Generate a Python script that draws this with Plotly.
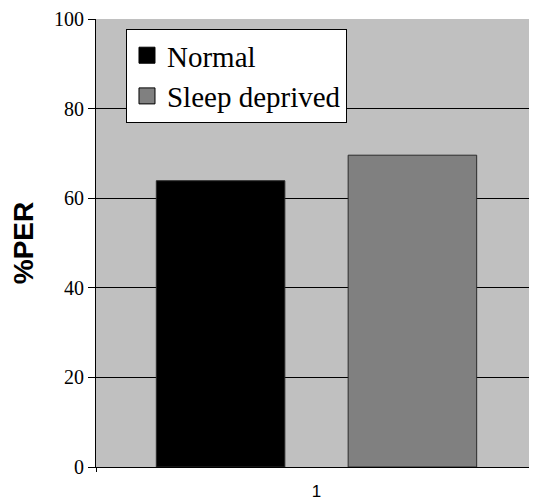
import plotly.graph_objects as go

# values
categories = ["1"]
normal = [63.9]
sleep_deprived = [69.6]
series_names = ["Normal", "Sleep deprived"]
y_ticks = [0, 20, 40, 60, 80, 100]

colors = ["#000000", "#808080"]
SERIF = "Liberation Serif"
SANS = "Liberation Sans"

fig = go.Figure()
for name, vals, col in zip(series_names, [normal, sleep_deprived], colors):
    fig.add_trace(go.Bar(
        x=categories, y=vals, name=name, showlegend=False,
        marker=dict(color=col, line=dict(color="#2a2a2a", width=1)),
    ))
    # legend entries with a bigger square than the bar icon
    fig.add_trace(go.Scatter(
        x=[None], y=[None], mode="markers", name=name,
        marker=dict(symbol="square", size=16, color=col,
                    line=dict(color="#000000", width=1)),
    ))

# page body has an 8px margin, so the figure is a bit smaller than the window
fig.update_layout(
    width=529, height=494,
    margin=dict(l=88, r=0, t=9, b=35),
    paper_bgcolor="white",
    plot_bgcolor="#C0C0C0",
    barmode="group",
    bargap=0.13,
    bargroupgap=0.33,
    font=dict(family=SERIF, size=20, color="#000000"),
    legend=dict(
        x=0.068, y=0.978, xanchor="left", yanchor="top",
        bgcolor="white", bordercolor="black", borderwidth=1,
        font=dict(family=SERIF, size=29, color="#000000"),
        itemsizing="trace", tracegroupgap=0,
    ),
)

fig.update_xaxes(
    type="category",
    showgrid=False,
    showline=True, linecolor="black", linewidth=1,
    ticks="outside", tickson="boundaries", ticklen=4, tickcolor="black",
    tickfont=dict(family=SANS, size=17, color="#000000"),
    ticklabelstandoff=9,
)
fig.update_yaxes(
    range=[0, 100],
    tickvals=y_ticks,
    showgrid=True, gridcolor="black", gridwidth=1,
    showline=True, linecolor="black", linewidth=1,
    zeroline=False,
    ticks="outside", ticklen=7, tickcolor="black",
    tickfont=dict(family=SERIF, size=20, color="#000000"),
    ticklabeloverflow="allow",
    title=dict(text="<b>%PER</b>", standoff=14,
               font=dict(family=SANS, size=28, color="#000000")),
)

fig.write_html("out.html")
